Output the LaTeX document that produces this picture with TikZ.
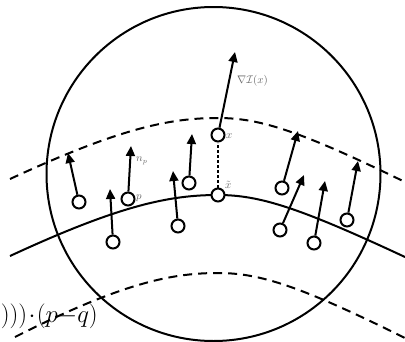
\documentclass[tikz,border=0pt]{standalone}
\usetikzlibrary{arrows.meta}
\begin{document}
\begin{tikzpicture}[x=1pt,y=-1pt,
  pt/.style={draw,circle,minimum size=13pt,inner sep=0pt,line width=2pt,fill=white},
  vec/.style={line width=2pt,-{Triangle[length=10pt,width=9pt]}},
  curve/.style={line width=2pt},
  dashcurve/.style={line width=2pt,dash pattern=on 9pt off 6pt},
  lbl/.style={text=black!60,inner sep=1pt,font=\fontsize{10.5}{12}\selectfont}]
\useasboundingbox (0,0) rectangle (405,341);
% big circle
\draw[line width=2pt] (213.5,174) circle[radius=167pt];
% solid curve
\draw[curve] (10,256) .. controls (120,205) and (170,195) .. (218,195)
  .. controls (260,195) and (300,208) .. (405,257);
% upper dashed curve
\draw[dashcurve] (10,179) .. controls (120,128) and (170,118) .. (218,118)
  .. controls (260,118) and (300,131) .. (405,182);
% bottom text
\node[anchor=base east,inner sep=0pt,font=\fontsize{26}{28}\selectfont] (formula) at (98,322) {$)))\mkern1mu{\cdot}\mkern1mu(p{-}q)$};
% lower dashed curve
\draw[dashcurve] (15,337) .. controls (120,284) and (170,273) .. (218,273)
  .. controls (260,273) and (300,286) .. (405,338);
% points
\node[pt] (c1) at (79,202) {};
\node[pt] (c2) at (113,242) {};
\node[pt] (p) at (128,199) {};
\node[pt] (c4) at (178,226) {};
\node[pt] (c5) at (189,183) {};
\node[pt] (x) at (218,135) {};
\node[pt] (xt) at (218,195) {};
\node[pt] (c8) at (282,188) {};
\node[pt] (c9) at (280,230) {};
\node[pt] (c10) at (314,243) {};
\node[pt] (c11) at (347,220) {};
% arrow tips
\coordinate (t1) at (68,153);
\coordinate (t2) at (110,189);
\coordinate (tp) at (131,146);
\coordinate (t4) at (173,171);
\coordinate (t5) at (192,134);
\coordinate (tx) at (235,52);
\coordinate (t8) at (298,131);
\coordinate (t9) at (304,175);
\coordinate (t10) at (325,181);
\coordinate (t11) at (358,161);
\draw[vec] (c1) -- (t1);
\draw[vec] (c2) -- (t2);
\draw[vec] (p) -- (tp);
\draw[vec] (c4) -- (t4);
\draw[vec] (c5) -- (t5);
\draw[vec] (x) -- (tx);
\draw[vec] (c8) -- (t8);
\draw[vec] (c9) -- (t9);
\draw[vec] (c10) -- (t10);
\draw[vec] (c11) -- (t11);
\draw[line width=2pt,dash pattern=on 2.5pt off 2.5pt] (xt) -- (x);
% labels
\node[lbl,anchor=west] (lgrad) at (236,81) {$\nabla\mathcal{I}(x)$};
\node[lbl,anchor=west] (lx) at (225,136) {$x$};
\node[lbl,anchor=west] (lxt) at (224,185) {$\tilde{x}$};
\node[lbl,anchor=west] (lp) at (135,198) {$p$};
\node[lbl,anchor=west] (lnp) at (135,161) {$n_p$};
\end{tikzpicture}
\end{document}
